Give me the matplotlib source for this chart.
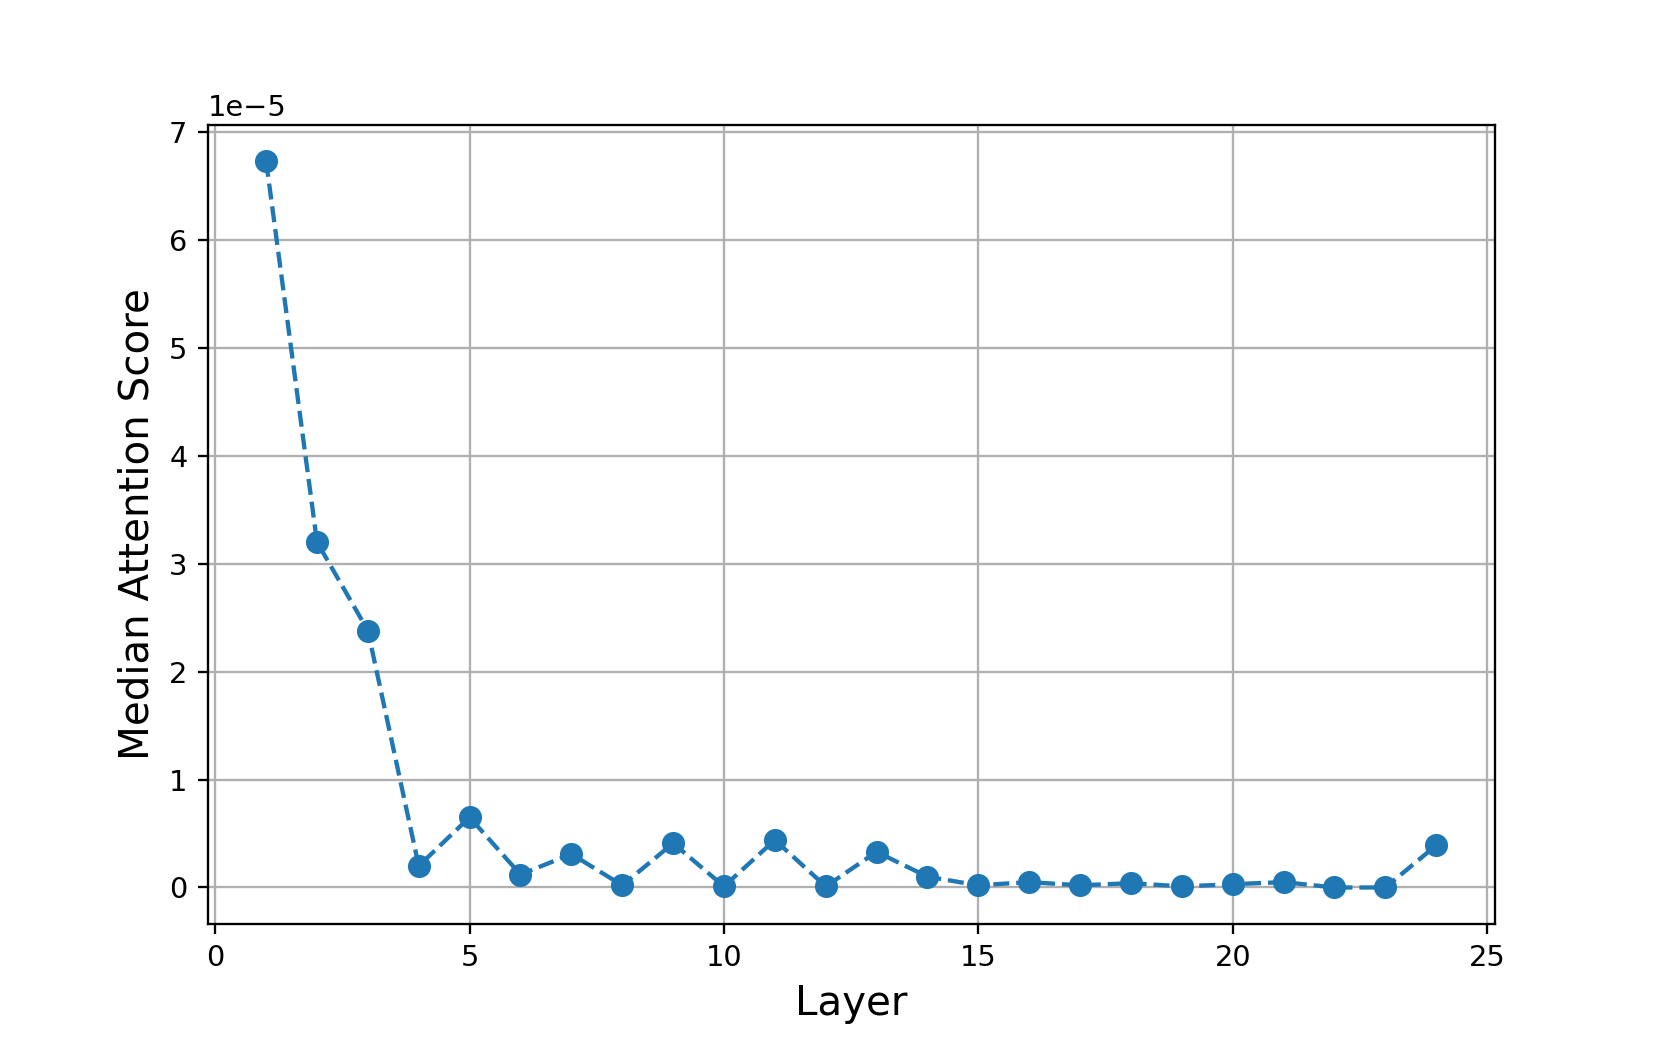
import matplotlib
matplotlib.use("Agg")
import matplotlib.pyplot as plt

# median attention score per layer (units of 1e-5)
layers = list(range(1, 25))
median_scores = [
    6.73, 3.20, 2.38, 0.20, 0.65, 0.12, 0.31, 0.02, 0.41, 0.01, 0.44, 0.01,
    0.33, 0.10, 0.02, 0.05, 0.02, 0.04, 0.01, 0.03, 0.05, 0.0, 0.0, 0.39,
]
scale = 1e-5

fig, ax = plt.subplots(figsize=(8, 5))
ax.plot(layers, [v * scale for v in median_scores], "o--", color="#1f77b4",
        linewidth=1.5, markersize=7)
ax.set_xlabel("Layer", fontsize=14)
ax.set_ylabel("Median Attention Score", fontsize=14)
ax.grid(True)
fig.savefig("out.png", dpi=207.6)
plt.close(fig)
